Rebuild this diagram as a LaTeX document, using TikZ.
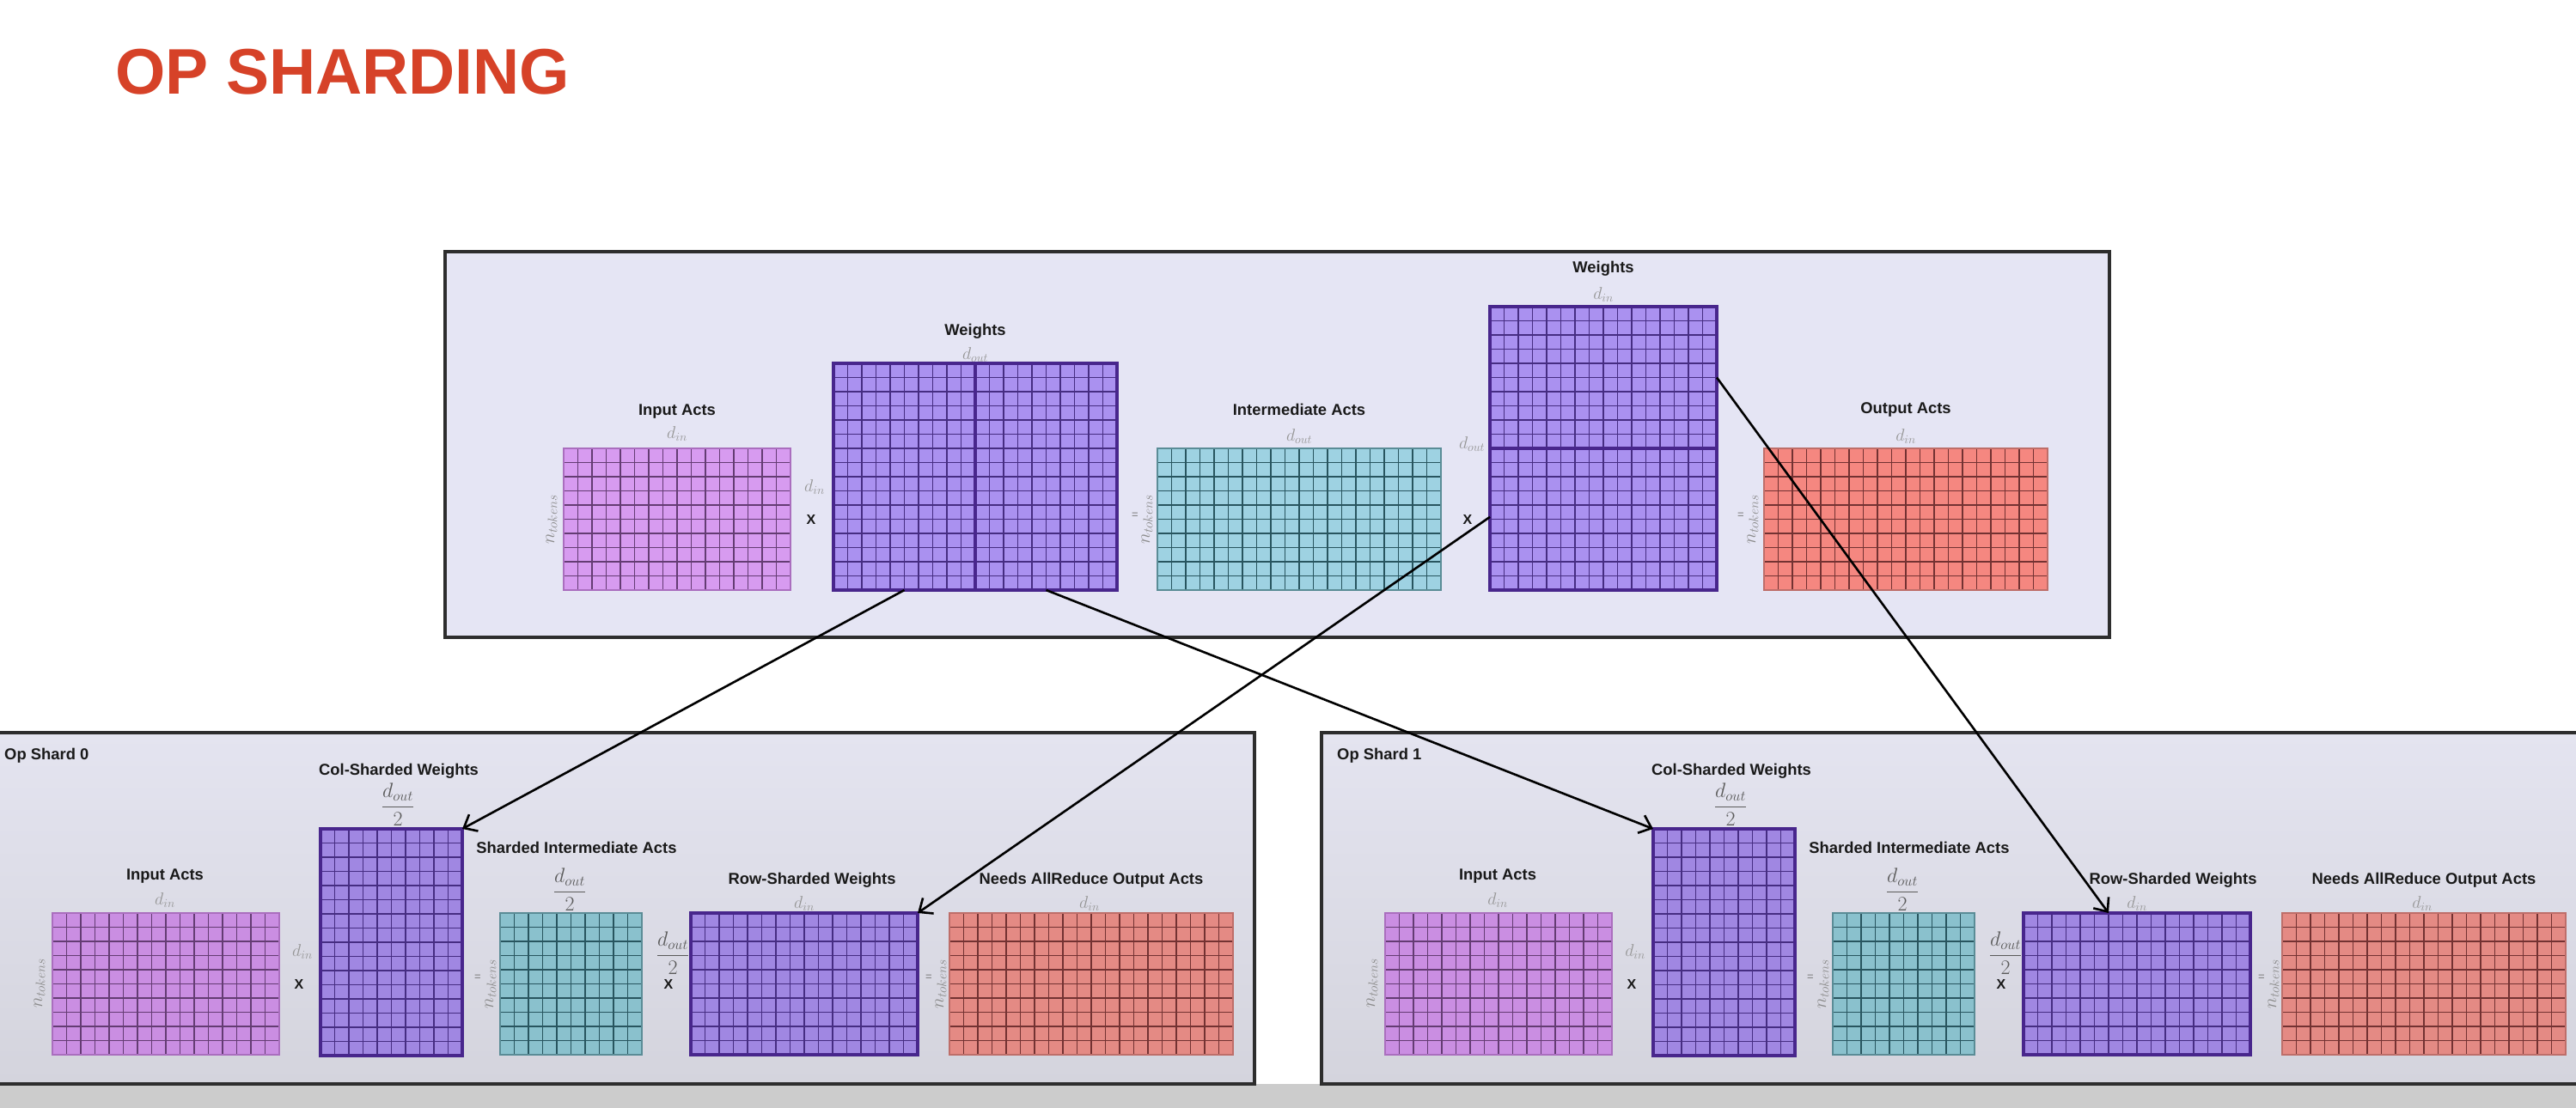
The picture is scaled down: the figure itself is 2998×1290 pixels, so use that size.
\RequirePackage{fix-cm}
\documentclass[tikz,border=0pt]{standalone}
\usepackage{fontspec}
\setmainfont{Liberation Sans}
\usetikzlibrary{arrows.meta,calc}
\definecolor{titlered}{RGB}{214,66,40}
\definecolor{bandgrey}{RGB}{204,204,204}
\definecolor{topframe}{RGB}{229,229,244}
\definecolor{shtop}{RGB}{228,228,240}
\definecolor{shbot}{RGB}{212,212,221}
\definecolor{inFillT}{RGB}{215,155,240}
\definecolor{inFillS}{RGB}{202,142,226}
\definecolor{inGrid}{RGB}{100,60,115}
\definecolor{inBorder}{RGB}{170,110,190}
\definecolor{wFillT}{RGB}{170,145,240}
\definecolor{wFillS}{RGB}{160,135,226}
\definecolor{wGrid}{RGB}{70,45,130}
\definecolor{wBorder}{RGB}{72,38,140}
\definecolor{midFillT}{RGB}{158,210,226}
\definecolor{midFillS}{RGB}{138,193,205}
\definecolor{midGrid}{RGB}{40,85,95}
\definecolor{midBorder}{RGB}{90,140,150}
\definecolor{outFillT}{RGB}{245,135,128}
\definecolor{outFillS}{RGB}{228,138,132}
\definecolor{outGrid}{RGB}{115,50,50}
\definecolor{outBorder}{RGB}{190,110,105}
\definecolor{frameline}{RGB}{45,45,45}
\definecolor{lbltext}{RGB}{25,25,25}
\definecolor{dimtext}{RGB}{150,150,150}
\definecolor{fractext}{RGB}{90,90,90}
\definecolor{ntoktext}{RGB}{140,140,140}
\definecolor{eqtext}{RGB}{120,120,120}
\tikzset{
  frame/.style={draw=frameline, line width=3.5pt},
  shardframe/.style={frame, top color=shtop, bottom color=shbot},
  title/.style={font=\bfseries\fontsize{75}{80}\selectfont, text=titlered, inner sep=0pt},
  lbl/.style={font=\bfseries\fontsize{18.4}{20}\selectfont, inner sep=0pt, text=lbltext},
  dim/.style={font=\fontsize{20}{22}\selectfont, text=dimtext, inner sep=0pt},
  fracl/.style={font=\fontsize{24}{26}\selectfont, text=fractext, inner sep=0pt},
  ntok/.style={font=\fontsize{22}{24}\selectfont, text=ntoktext, inner sep=0pt, rotate=90},
  timesl/.style={font=\bfseries\fontsize{16}{18}\selectfont, inner sep=0pt, text=lbltext},
  eql/.style={font=\fontsize{13}{14}\selectfont, text=eqtext, inner sep=0pt},
  conn/.style={line width=2.6pt, draw=black, -{Straight Barb[length=13pt,width=22pt,line width=2.6pt]}},
}
% #1 name #2 x #3 y #4 cols #5 rows #6 fill #7 grid #8 border colour #9 border width
\newcommand{\gmat}[9]{%
  \node[anchor=north west, inner sep=0pt, outer sep=0pt,
        minimum width=#4*16.5pt, minimum height=#5*16.5pt, fill=#6] (#1) at (#2,#3) {};
  \foreach \k in {1,...,#4} {\draw[draw=#7, line width=1.8pt] ({#2+\k*16.5-16.5},#3) -- ({#2+\k*16.5-16.5},{#3+#5*16.5});}
  \foreach \k in {1,...,#5} {\draw[draw=#7, line width=1.8pt] (#2,{#3+\k*16.5-16.5}) -- ({#2+#4*16.5},{#3+\k*16.5-16.5});}
  \draw[draw=#8, line width=#9] (#1.north west) rectangle (#1.south east);
}
% #1 suffix #2 x offset #3 row-sharded label x
\newcommand{\shardpic}[3]{%
  \begin{scope}[xshift=#2pt]
  \draw[shardframe] (-13,853) rectangle (1460,1262);
  \node[lbl, anchor=west] (op#1) at (5,880) {Op Shard #1};
  \gmat{inS#1}{61}{1063}{16}{10}{inFillS}{inGrid}{inBorder}{1.7pt}
  \node[lbl] (lin#1) at (192,1020) {Input Acts};
  \node[dim] (din#1) at (192,1048) {$d_{in}$};
  \node[ntok] (nin#1) at (46,1145) {$n_{tokens}$};
  \gmat{colW#1}{373}{965}{10}{16}{wFillS}{wGrid}{wBorder}{4pt}
  \node[lbl] (lcol#1) at (464,898) {Col-Sharded Weights};
  \node[fracl] (fcol#1) at (463,937) {$\displaystyle\frac{d_{out}}{2}$};
  \node[dim] (dcol#1) at (352,1108) {$d_{in}$};
  \node[timesl] (xcol#1) at (348,1146) {X};
  \gmat{midS#1}{582}{1063}{10}{10}{midFillS}{midGrid}{midBorder}{1.7pt}
  \node[lbl] (lmid#1) at (671,987) {Sharded Intermediate Acts};
  \node[fracl] (fmid#1) at (663,1036) {$\displaystyle\frac{d_{out}}{2}$};
  \node[eql] (emid#1) at (556,1138) {=};
  \node[ntok] (nmid#1) at (571,1146) {$n_{tokens}$};
  \gmat{rowW#1}{804}{1063}{16}{10}{wFillS}{wGrid}{wBorder}{4pt}
  \node[lbl] (lrow#1) at (#3,1025) {Row-Sharded Weights};
  \node[dim] (drow#1) at (936,1052) {$d_{in}$};
  \node[fracl] (frow#1) at (783,1110) {$\displaystyle\frac{d_{out}}{2}$};
  \node[timesl] (xrow#1) at (778,1146) {X};
  \gmat{outS#1}{1105}{1063}{20}{10}{outFillS}{outGrid}{outBorder}{1.7pt}
  \node[lbl] (lout#1) at (1270,1025) {Needs AllReduce Output Acts};
  \node[dim] (dout#1) at (1268,1052) {$d_{in}$};
  \node[eql] (eout#1) at (1081,1138) {=};
  \node[ntok] (nout#1) at (1095,1146) {$n_{tokens}$};
  \end{scope}
}
\begin{document}
\begin{tikzpicture}[x=1pt,y=-1pt]
\useasboundingbox (0,0) rectangle (2998,1290);
\clip (0,0) rectangle (2998,1290);
\fill[white] (0,0) rectangle (2998,1290);
\fill[bandgrey] (0,1262) rectangle (2998,1290);
\node[title, anchor=base west] (title) at (134,110) {OP SHARDING};
% ---------- top frame ----------
\draw[frame, fill=topframe] (518,293) rectangle (2455,742);
\gmat{inT}{656}{522}{16}{10}{inFillT}{inGrid}{inBorder}{1.7pt}
\node[lbl] (linT) at (788,479) {Input Acts};
\node[dim] (dinT) at (788,505) {$d_{in}$};
\node[ntok] (ninT) at (642,605) {$n_{tokens}$};
\gmat{wT}{970}{423}{20}{16}{wFillT}{wGrid}{wBorder}{4pt}
\draw[draw=wBorder, line width=4pt] (wT.north) -- (wT.south);
\node[lbl] (lwT) at (1135,386) {Weights};
\node[dim] (dwT) at (1135,413) {$d_{out}$};
\node[dim] (dwTl) at (948,567) {$d_{in}$};
\node[timesl] (xwT) at (944,605) {X};
\gmat{midT}{1347}{522}{20}{10}{midFillT}{midGrid}{midBorder}{1.7pt}
\node[lbl] (lmidT) at (1512,477) {Intermediate Acts};
\node[dim] (dmidT) at (1512,508) {$d_{out}$};
\node[eql] (emidT) at (1321,600) {=};
\node[ntok] (nmidT) at (1335,605) {$n_{tokens}$};
\gmat{wT2}{1734}{357}{16}{20}{wFillT}{wGrid}{wBorder}{4pt}
\draw[draw=wBorder, line width=4pt] (wT2.west) -- (wT2.east);
\node[lbl] (lwT2) at (1866,313) {Weights};
\node[dim] (dwT2) at (1866,343) {$d_{in}$};
\node[dim] (dwT2l) at (1713,517) {$d_{out}$};
\node[timesl] (xwT2) at (1708,605) {X};
\gmat{outT}{2053}{522}{20}{10}{outFillT}{outGrid}{outBorder}{1.7pt}
\node[lbl] (loutT) at (2218,477) {Output Acts};
\node[dim] (doutT) at (2218,508) {$d_{in}$};
\node[eql] (eoutT) at (2026,600) {=};
\node[ntok] (noutT) at (2040,605) {$n_{tokens}$};
% ---------- shards ----------
\shardpic{0}{0}{945}
\shardpic{1}{1551}{978}
% ---------- connectors ----------
\draw[conn] ($(wT.south west)!0.25!(wT.south east)$) -- (colW0.north east);
\draw[conn] ($(wT.south west)!0.75!(wT.south east)$) -- (colW1.north west);
\draw[conn] ($(wT2.north west)!0.742!(wT2.south west)$) -- (rowW0.north east);
\draw[conn] ($(wT2.north east)!0.25!(wT2.south east)$) -- ($(rowW1.north west)!0.375!(rowW1.north east)$);
\end{tikzpicture}
\end{document}
